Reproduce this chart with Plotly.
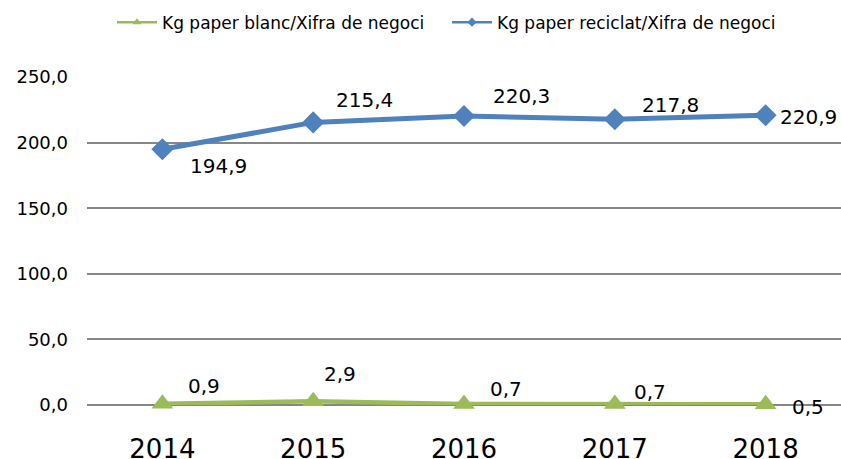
import plotly.graph_objects as go

roky = [2014, 2015, 2016, 2017, 2018]
paper_blanc = [0.9, 2.9, 0.7, 0.7, 0.5]
paper_reciclat = [194.9, 215.4, 220.3, 217.8, 220.9]

# posun popisku od bodu (px)
posun_reciclat = [(56, -17), (51, 22), (57, 20), (56, 14), (43, -2)]
posun_blanc = [(42, 18), (27, 27), (42, 15), (35, 12), (42, -3)]

modra = "#4F81BD"
zelena = "#9BBB59"
pismo = "DejaVu Sans"
nazvy = ["Kg paper blanc/Xifra de negoci", "Kg paper reciclat/Xifra de negoci"]

fig = go.Figure()

fig.add_trace(go.Scatter(
    x=roky, y=paper_blanc,
    mode="lines+markers",
    name=nazvy[0],
    line=dict(color=zelena, width=4.5),
    marker=dict(symbol="triangle-up", size=19, color=zelena),
    cliponaxis=False,
    showlegend=False,
))

fig.add_trace(go.Scatter(
    x=roky, y=paper_reciclat,
    mode="lines+markers",
    name=nazvy[1],
    line=dict(color=modra, width=5),
    marker=dict(symbol="diamond", size=17, color=modra),
    cliponaxis=False,
    showlegend=False,
))

# jen pro legendu (mensi znacky)
fig.add_trace(go.Scatter(
    x=[None], y=[None], mode="lines+markers", name=nazvy[0],
    line=dict(color=zelena, width=2.5),
    marker=dict(symbol="triangle-up", size=8, color=zelena),
))
fig.add_trace(go.Scatter(
    x=[None], y=[None], mode="lines+markers", name=nazvy[1],
    line=dict(color=modra, width=2.5),
    marker=dict(symbol="diamond", size=7, color=modra),
))

for rada, posuny in ((paper_reciclat, posun_reciclat), (paper_blanc, posun_blanc)):
    for rok, hodnota, (dx, dy) in zip(roky, rada, posuny):
        fig.add_annotation(
            x=rok, y=hodnota,
            text=f"{hodnota:.1f}".replace(".", ","),
            showarrow=False,
            xshift=dx, yshift=dy,
            font=dict(family=pismo, size=20, color="#000000"),
        )

fig.update_layout(
    width=841, height=459,
    paper_bgcolor="white",
    plot_bgcolor="white",
    separators=",.",
    font=dict(family=pismo, color="#000000"),
    margin=dict(l=87, r=0, t=77, b=54),
    legend=dict(
        orientation="h",
        x=112 / 841, xanchor="left", xref="container",
        y=0.99, yanchor="top", yref="container",
        font=dict(family=pismo, size=17),
        itemwidth=40,
        entrywidth=280,
    ),
    xaxis=dict(
        range=[2013.5, 2018.5],
        tickvals=roky,
        ticktext=[str(r) for r in roky],
        showgrid=False,
        showline=False,
        zeroline=False,
        ticks="",
        tickfont=dict(family=pismo, size=26),
        ticklabelstandoff=26,
        automargin=False,
    ),
    yaxis=dict(
        range=[0, 250],
        tickvals=[0, 50, 100, 150, 200, 250],
        tickformat=".1f",
        showgrid=True,
        gridcolor="#868686",
        gridwidth=1.5,
        zeroline=True,
        zerolinecolor="#868686",
        zerolinewidth=1.5,
        showline=False,
        ticks="",
        tickfont=dict(family=pismo, size=18),
        ticklabelstandoff=18,
        automargin=False,
    ),
)

fig.write_html("out.html", config={"displayModeBar": False},
               post_script="document.body.style.margin='0px';")
